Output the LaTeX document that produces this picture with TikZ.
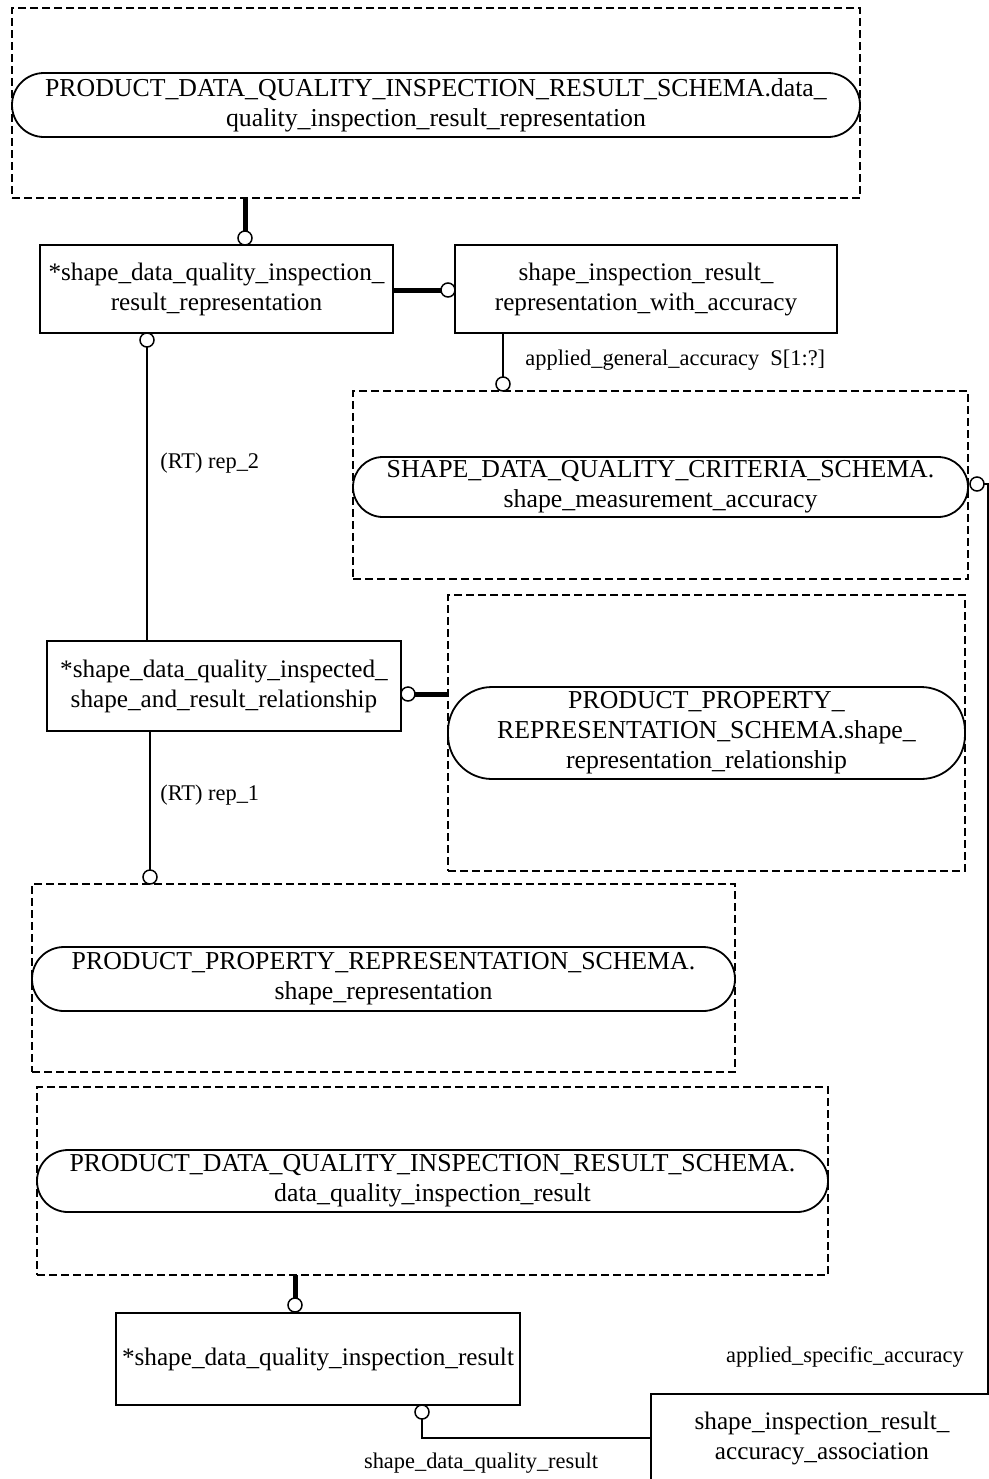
\documentclass[tikz,border=0pt]{standalone}
\usepackage{fontspec}
\setmainfont{Liberation Serif}
\usetikzlibrary{positioning}
\tikzset{
  entity/.style={draw,line width=1pt,align=center,inner sep=0.5pt,outer sep=0pt,
    font=\fontsize{12.6}{15}\selectfont},
  schemabox/.style={draw,dash pattern=on 4pt off 2pt,line width=0.75pt,
    inner sep=0pt,outer sep=0pt},
  pill/.style={draw,line width=0.9pt,rounded corners=#1,align=center,
    inner sep=0pt,outer sep=0pt,font=\fontsize{12.9}{15}\selectfont},
  ring/.style={circle,draw,fill=white,line width=0.75pt,minimum size=7pt,
    inner sep=0pt,outer sep=0pt},
  link/.style={line width=0.75pt},
  heavy/.style={line width=2.5pt},
  lbl/.style={inner sep=0pt,font=\fontsize{11.2}{13}\selectfont}
}
\begin{document}
\begin{tikzpicture}[x=0.5pt,y=-0.5pt]
  \useasboundingbox (0,0) rectangle (989,1479);
  \clip (0,0) rectangle (989,1479);
  % schema boxes (dashed) with their pills
  \node[schemabox,minimum width=424pt,minimum height=95pt] (resrep) at (436,103) {};
  \node[pill=16pt,minimum width=424pt,minimum height=32pt] (resrepP) at (436,105)
    {PRODUCT\_DATA\_QUALITY\_INSPECTION\_RESULT\_SCHEMA.data\_\\
     quality\_inspection\_result\_representation};
  \node[schemabox,minimum width=307.5pt,minimum height=94pt] (accur) at (660.5,485) {};
  \node[pill=15pt,minimum width=307.5pt,minimum height=30pt] (accurP) at (660.5,487)
    {SHAPE\_DATA\_QUALITY\_CRITERIA\_SCHEMA.\\ shape\_measurement\_accuracy};
  \node[schemabox,minimum width=258.5pt,minimum height=138pt] (srel) at (706.5,733) {};
  \node[pill=22pt,minimum width=258.5pt,minimum height=46pt] (srelP) at (706.5,733)
    {PRODUCT\_PROPERTY\_\\ REPRESENTATION\_SCHEMA.shape\_\\ representation\_relationship};
  \node[schemabox,minimum width=351.5pt,minimum height=94pt] (srep) at (383.5,978) {};
  \node[pill=16pt,minimum width=351.5pt,minimum height=32pt] (srepP) at (383.5,979)
    {PRODUCT\_PROPERTY\_REPRESENTATION\_SCHEMA.\\ shape\_representation};
  \node[schemabox,minimum width=395.5pt,minimum height=94pt] (dqres) at (432.5,1181) {};
  \node[pill=15.5pt,minimum width=395.5pt,minimum height=31pt] (dqresP) at (432.5,1181)
    {PRODUCT\_DATA\_QUALITY\_INSPECTION\_RESULT\_SCHEMA.\\ data\_quality\_inspection\_result};

  % entities
  \node[entity,minimum width=176.5pt,minimum height=44pt] (sdqirr) at (216.5,289)
    {*shape\_data\_quality\_inspection\_\\ result\_representation};
  \node[entity,minimum width=191pt,minimum height=44pt] (sirrwa) at (646,289)
    {shape\_inspection\_result\_\\ representation\_with\_accuracy};
  \node[entity,minimum width=177pt,minimum height=45pt] (sdqisrr) at (224,686)
    {*shape\_data\_quality\_inspected\_\\ shape\_and\_result\_relationship};
  \node[entity,minimum width=202pt,minimum height=46pt] (sdqir) at (318,1359)
    {*shape\_data\_quality\_inspection\_result};
  \node[entity,minimum width=171pt,minimum height=44pt] (siraa) at (822,1438)
    {shape\_inspection\_result\_\\ accuracy\_association};

  % rings
  \node[ring] (r1) at (245,238) {};
  \node[ring] (r2) at (448,290) {};
  \node[ring] (r3) at (503,384) {};
  \node[ring] (r4) at (977,484) {};
  \node[ring] (r5) at (147,340) {};
  \node[ring] (r6) at (408,694) {};
  \node[ring] (r7) at (150,877) {};
  \node[ring] (r8) at (295,1305) {};
  \node[ring] (r9) at (422,1412) {};
  \coordinate (bend1) at (988,484);
  \coordinate (bend2) at (422,1438);

  % connectors
  \draw[heavy] (resrep.south -| r1) -- (r1);
  \draw[heavy] (sdqirr.east |- r2) -- (r2);
  \draw[link] (sirrwa.south -| r3) -- (r3);
  \draw[link] (r4) -- (bend1) -- (bend1 |- siraa.north);
  \draw[link] (r5) -- (r5 |- sdqisrr.north);
  \draw[heavy] (r6) -- (srel.west |- r6);
  \draw[link] (sdqisrr.south -| r7) -- (r7);
  \draw[heavy] (dqres.south -| r8) -- (r8);
  \draw[link] (r9) -- (bend2) -- (siraa.west |- bend2);

  % role labels
  \node[lbl,anchor=west] (lgen) at (525,360) {applied\_general\_accuracy~~S[1:?]};
  \node[lbl,anchor=west] (lrep2) at (160,463) {(RT) rep\_2};
  \node[lbl,anchor=west] (lrep1) at (160,795) {(RT) rep\_1};
  \node[lbl] (lspec) at (845,1357) {applied\_specific\_accuracy};
  \node[lbl] (lres) at (481,1463) {shape\_data\_quality\_result};
\end{tikzpicture}
\end{document}
